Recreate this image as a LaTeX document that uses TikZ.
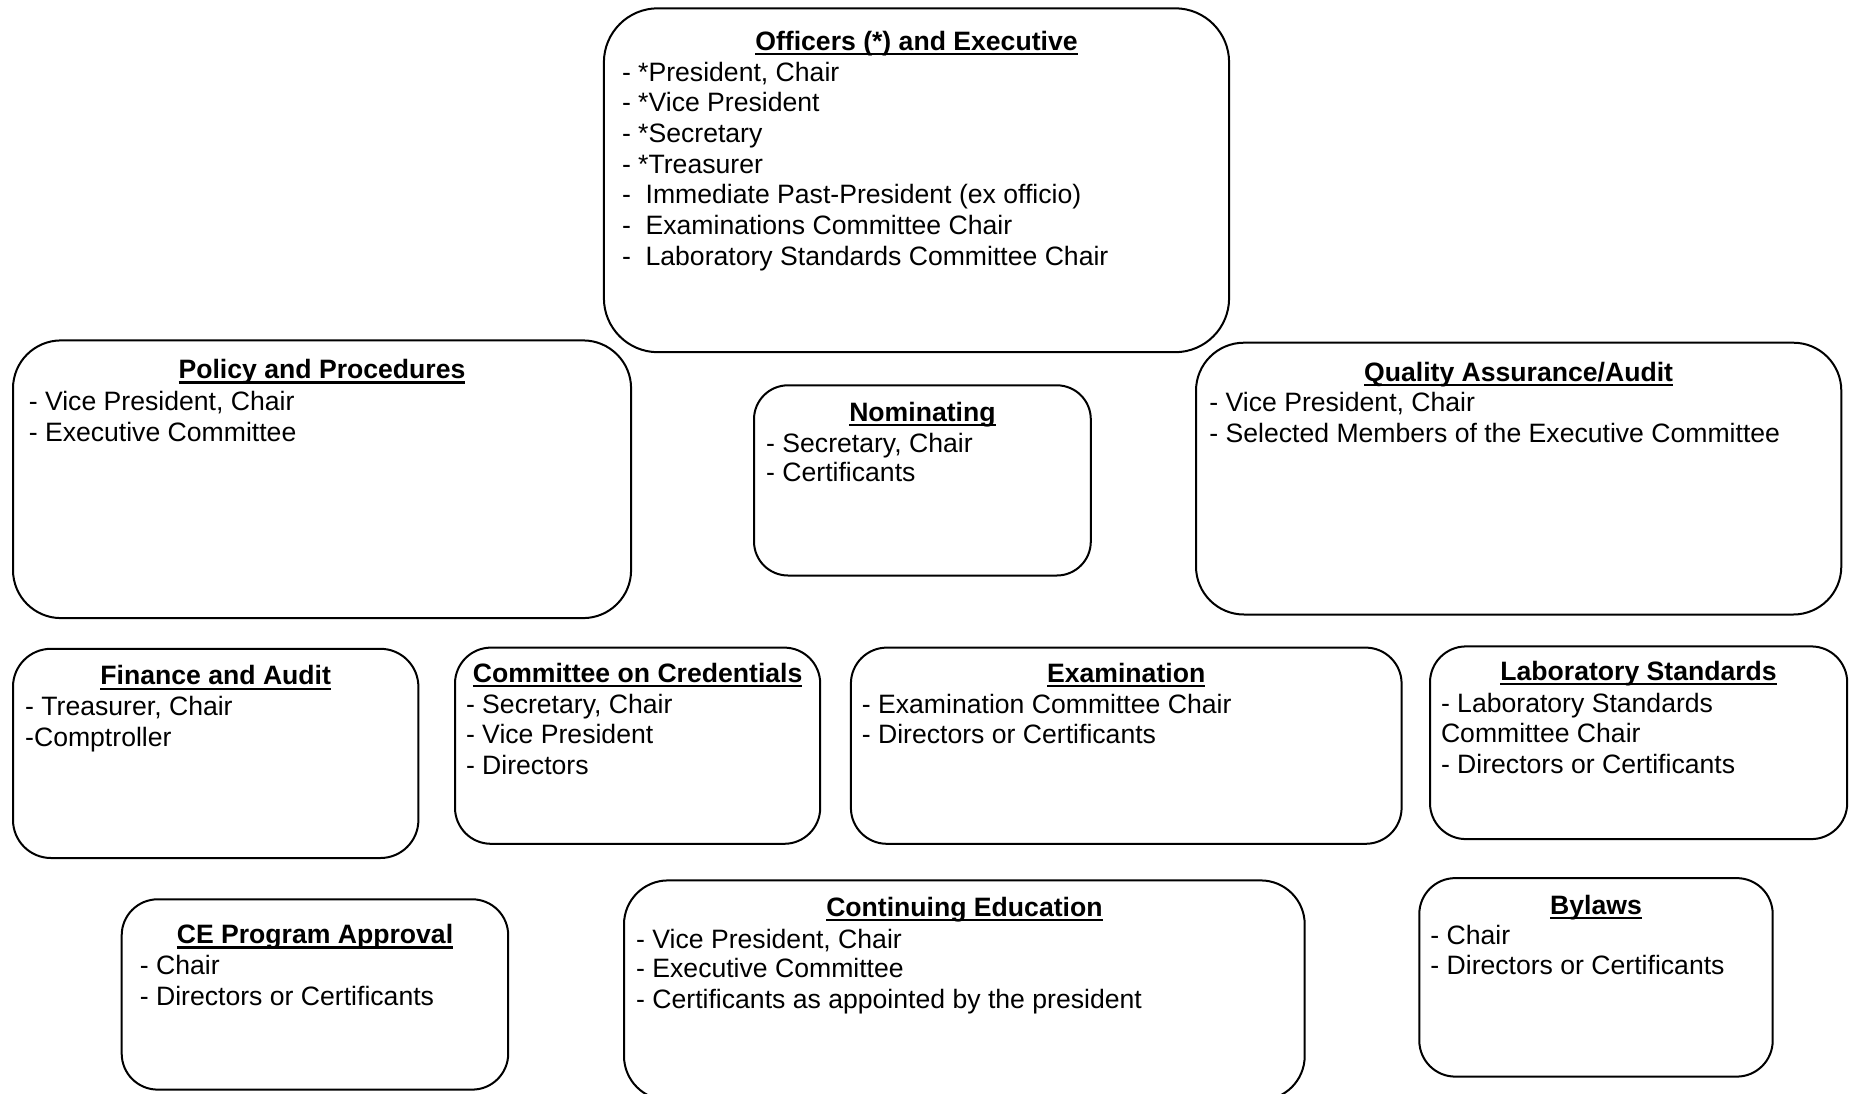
\documentclass[tikz,border=0pt]{standalone}
\usepackage{fontspec}
\setmainfont{Liberation Sans}
\newcommand\myul[1]{\setbox0=\hbox{#1}\rlap{\rule[-2.4pt]{\wd0}{1.1pt}}\box0}
\tikzset{
  cbox/.style={draw, line width=1pt, rectangle, inner sep=0pt},
  ttl/.style={anchor=base, inner sep=0pt, font=\fontsize{13.3}{15.36}\selectfont\bfseries},
  ln/.style={anchor=base west, inner sep=0pt, font=\fontsize{13.3}{15.36}\selectfont},
}
\newcommand\rbox[6]{\node[cbox, rounded corners=#6, minimum width={(#4-#2)*0.5pt}, minimum height={(#5-#3)*0.5pt}] (#1) at ({(#2+#4)/2},{(#3+#5)/2}) {};}
\begin{document}
\begin{tikzpicture}[x=0.5pt,y=-0.5pt]
\useasboundingbox (0,0) rectangle (1853,1093);
\clip (0,0) rectangle (1853,1093);
% Officers
\rbox{off}{603.9}{8.3}{1229.1}{352.2}{27pt}
\node[ttl] (off-t) at (916.5,50.2) {\myul{Officers (*) and Executive}};
\node[ln] (off-1) at (621.6,81.0) {- *President, Chair};
\node[ln] (off-2) at (621.6,111.7) {- *Vice President};
\node[ln] (off-3) at (621.6,142.4) {- *Secretary};
\node[ln] (off-4) at (621.6,173.2) {- *Treasurer};
\node[ln] (off-5) at (621.6,203.9) {-\ \ Immediate Past-President (ex officio)};
\node[ln] (off-6) at (621.6,234.6) {-\ \ Examinations Committee Chair};
\node[ln] (off-7) at (621.6,265.3) {-\ \ Laboratory Standards Committee Chair};
% Policy
\rbox{pol}{13.0}{340.4}{631.1}{618.1}{24pt}
\node[ttl] (pol-t) at (322.0,378.8) {\myul{Policy and Procedures}};
\node[ln] (pol-1) at (28.4,410.7) {- Vice President, Chair};
\node[ln] (pol-2) at (28.4,441.4) {- Executive Committee};
% Nominating
\rbox{nom}{754.0}{385.3}{1090.8}{575.5}{17pt}
\node[ttl] (nom-t) at (922.4,421.3) {\myul{Nominating}};
\node[ln] (nom-1) at (765.8,452.0) {- Secretary, Chair};
\node[ln] (nom-2) at (765.8,481.6) {- Certificants};
% QA
\rbox{qa}{1196.0}{342.7}{1841.3}{614.5}{24pt}
\node[ttl] (qa-t) at (1518.6,381.1) {\myul{Quality Assurance/Audit}};
\node[ln] (qa-1) at (1209.0,411.9) {- Vice President, Chair};
\node[ln] (qa-2) at (1209.0,442.6) {- Selected Members of the Executive Committee};
% Finance
\rbox{fin}{13.0}{648.8}{418.4}{858.0}{19pt}
\node[ttl] (fin-t) at (215.7,684.9) {\myul{Finance and Audit}};
\node[ln] (fin-1) at (24.8,715.6) {- Treasurer, Chair};
\node[ln] (fin-2) at (24.8,746.3) {-Comptroller};
% Credentials
\rbox{cred}{455.0}{647.6}{820.2}{843.8}{18pt}
\node[ttl] (cred-t) at (637.6,682.5) {\myul{Committee on Credentials}};
\node[ln] (cred-1) at (465.6,713.2) {- Secretary, Chair};
\node[ln] (cred-2) at (465.6,743.9) {- Vice President};
\node[ln] (cred-3) at (465.6,774.7) {- Directors};
% Examination
\rbox{exam}{850.9}{647.6}{1401.6}{843.8}{18pt}
\node[ttl] (exam-t) at (1126.2,682.5) {\myul{Examination}};
\node[ln] (exam-1) at (861.5,713.2) {- Examination Committee Chair};
\node[ln] (exam-2) at (861.5,743.9) {- Directors or Certificants};
% Laboratory Standards
\rbox{lab}{1430.0}{646.4}{1847.2}{839.1}{18pt}
\node[ttl] (lab-t) at (1638.6,680.1) {\myul{Laboratory Standards}};
\node[ln] (lab-1) at (1440.6,712.0) {- Laboratory Standards};
\node[ln] (lab-2) at (1440.6,742.8) {Committee Chair};
\node[ln] (lab-3) at (1440.6,773.5) {- Directors or Certificants};
% CE Program Approval
\rbox{cep}{121.7}{899.3}{508.2}{1089.6}{18pt}
\node[ttl] (cep-t) at (315.0,943.7) {\myul{CE Program Approval}};
\node[ln] (cep-1) at (139.5,974.4) {- Chair};
\node[ln] (cep-2) at (139.5,1005.1) {- Directors or Certificants};
% Continuing Education
\rbox{ced}{624.0}{880.4}{1304.7}{1100.0}{22pt}
\node[ttl] (ced-t) at (964.4,916.5) {\myul{Continuing Education}};
\node[ln] (ced-1) at (635.8,948.4) {- Vice President, Chair};
\node[ln] (ced-2) at (635.8,977.9) {- Executive Committee};
\node[ln] (ced-3) at (635.8,1008.7) {- Certificants as appointed by the president};
% Bylaws
\rbox{byl}{1419.3}{878.1}{1772.7}{1076.6}{18pt}
\node[ttl] (byl-t) at (1596.0,914.1) {\myul{Bylaws}};
\node[ln] (byl-1) at (1430.0,944.8) {- Chair};
\node[ln] (byl-2) at (1430.0,974.4) {- Directors or Certificants};
\end{tikzpicture}
\end{document}
